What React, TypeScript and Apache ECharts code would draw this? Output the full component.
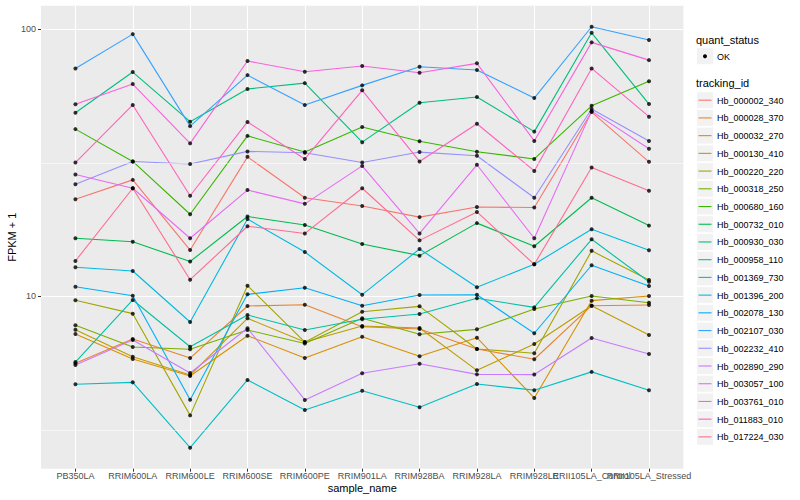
import React, { useEffect, useRef } from "react";
import * as echarts from "echarts";

const samples = [
  "PB350LA", "RRIM600LA", "RRIM600LE", "RRIM600SE", "RRIM600PE", "RRIM901LA",
  "RRIM928BA", "RRIM928LA", "RRIM928LE", "RRII105LA_Control", "RRII105LA_Stressed",
];

const trackingIds = [
  "Hb_000002_340", "Hb_000028_370", "Hb_000032_270", "Hb_000130_410", "Hb_000220_220",
  "Hb_000318_250", "Hb_000680_160", "Hb_000732_010", "Hb_000930_030", "Hb_000958_110",
  "Hb_001369_730", "Hb_001396_200", "Hb_002078_130", "Hb_002107_030", "Hb_002232_410",
  "Hb_002890_290", "Hb_003057_100", "Hb_003761_010", "Hb_011883_010", "Hb_017224_030",
];

const colors = [
  "#F8766D", "#EA8331", "#D89000", "#C09B00", "#A3A500", "#7CAE00", "#39B600", "#00BB4E",
  "#00BF7D", "#00C1A3", "#00BFC4", "#00BAE0", "#00B0F6", "#35A2FF", "#9590FF", "#C77CFF",
  "#E76BF3", "#FA62DB", "#FF62BC", "#FF6C91",
];

// FPKM + 1 per sample (order of `samples`)
const hb_000002_340 = [23.1, 27.3, 14.9, 33.3, 23.4, 21.8, 19.8, 21.6, 21.5, 49.0, 31.9];
const hb_000028_370 = [5.61, 6.92, 5.87, 9.2, 9.3, 7.69, 7.54, 6.35, 5.81, 9.22, 9.28];
const hb_000032_270 = [7.22, 5.82, 5.03, 7.12, 5.87, 7.06, 5.96, 7.0, 4.16, 9.63, 10.03];
const hb_000130_410 = [7.5, 5.94, 5.07, 8.27, 6.74, 7.74, 7.61, 5.28, 6.63, 9.22, 7.16];
const hb_000220_220 = [9.66, 8.61, 3.58, 10.96, 6.73, 8.75, 9.17, 6.35, 6.12, 14.8, 11.5];
const hb_000318_250 = [7.79, 6.46, 6.33, 7.48, 6.66, 8.27, 7.21, 7.52, 8.96, 10.03, 9.46];
const hb_000680_160 = [42.3, 32.0, 20.3, 39.9, 34.7, 43.1, 38.1, 34.8, 32.7, 51.7, 63.9];
const hb_000732_010 = [16.5, 16.0, 13.5, 19.9, 18.5, 15.7, 14.2, 18.8, 15.4, 23.4, 18.4];
const hb_000930_030 = [48.7, 69.2, 45.1, 59.8, 62.9, 37.8, 53.1, 55.8, 41.4, 97.1, 52.5];
const hb_000958_110 = [5.67, 9.69, 6.47, 8.51, 7.48, 8.2, 8.58, 9.83, 9.09, 16.35, 11.34];
const hb_001369_730 = [4.68, 4.76, 2.71, 4.86, 3.75, 4.43, 3.84, 4.69, 4.45, 5.21, 4.45];
const hb_001396_200 = [12.84, 12.44, 8.01, 19.47, 14.65, 10.14, 15.04, 10.81, 13.18, 17.82, 14.87];
const hb_002078_130 = [10.86, 10.05, 4.1, 10.17, 10.77, 9.22, 10.11, 10.13, 7.27, 13.07, 10.93];
const hb_002107_030 = [71.4, 96.0, 43.4, 67.4, 52.1, 61.7, 72.4, 70.4, 55.3, 102.3, 91.2];
const hb_002232_410 = [26.3, 32.0, 31.3, 34.9, 34.5, 31.7, 34.7, 33.6, 23.4, 50.3, 38.2];
const hb_002890_290 = [5.53, 6.86, 5.16, 7.59, 4.09, 5.15, 5.59, 5.1, 5.09, 6.98, 6.08];
const hb_003057_100 = [28.6, 25.4, 16.5, 25.0, 22.2, 30.8, 17.2, 31.1, 16.5, 49.4, 35.7];
const hb_003761_010 = [52.4, 62.4, 37.4, 76.1, 69.4, 72.9, 68.8, 74.6, 38.2, 89.4, 76.7];
const hb_011883_010 = [31.7, 52.1, 23.8, 45.0, 32.7, 59.1, 32.0, 44.3, 29.5, 71.4, 47.1];
const hb_017224_030 = [13.56, 25.4, 11.54, 18.3, 17.2, 25.4, 16.2, 20.7, 13.18, 30.4, 24.85];

const seriesValues = [
  hb_000002_340, hb_000028_370, hb_000032_270, hb_000130_410, hb_000220_220,
  hb_000318_250, hb_000680_160, hb_000732_010, hb_000930_030, hb_000958_110,
  hb_001369_730, hb_001396_200, hb_002078_130, hb_002107_030, hb_002232_410,
  hb_002890_290, hb_003057_100, hb_003761_010, hb_011883_010, hb_017224_030,
];

const yMajorTicks = [10, 100];
const yMinorTicks = [3.1623, 31.623];
const quantStatus = ["OK"];

const FONT = "'Liberation Sans', Arial, Helvetica, sans-serif";

export default function App() {
  const ref = useRef<HTMLDivElement>(null);

  useEffect(() => {
    if (!ref.current) return;
    const chart = echarts.init(ref.current, undefined, { renderer: "svg" });
    const lg = Math.log10;
    const allVals = seriesValues.flat().map(lg);
    const dmin = Math.min(...allVals);
    const dmax = Math.max(...allVals);
    const pad = (dmax - dmin) * 0.05;
    const xIdx = samples.map((_, i) => i);
    // labels split over two axes so that overlapping neighbours are both kept
    const xIdxEven = xIdx.filter((i) => i !== samples.length - 2);
    const xIdxOdd = [samples.length - 2];

    const lineSeries = seriesValues.map((vals, k) => ({
      name: trackingIds[k],
      type: "line",
      z: 2,
      showSymbol: false,
      symbol: "none",
      silent: true,
      lineStyle: { color: colors[k], width: 1.1 },
      itemStyle: { color: colors[k] },
      data: vals.map((v, i) => [i, lg(v)]),
    }));

    const points: number[][] = [];
    seriesValues.forEach((vals) => vals.forEach((v, i) => points.push([i, lg(v)])));

    const legendX = 697;
    const keySize = 17;
    const graphic: any[] = [];
    graphic.push({
      type: "text", left: legendX - 1, top: 34,
      style: { text: "quant_status", font: `11px ${FONT}`, fill: "#000" },
    });
    quantStatus.forEach((q, i) => {
      const cy = 56.7 + i * 17.7;
      graphic.push({ type: "rect", shape: { x: legendX, y: cy - keySize / 2, width: keySize - 1, height: keySize - 1 }, style: { fill: "#F2F2F2" } });
      graphic.push({ type: "circle", shape: { cx: legendX + 8, cy: cy - 0.5, r: 2 }, style: { fill: "#000" } });
      graphic.push({ type: "text", x: legendX + 20, y: cy, style: { text: q, font: `9px ${FONT}`, fill: "#000", verticalAlign: "middle" } });
    });
    graphic.push({
      type: "text", left: legendX - 1, top: 77,
      style: { text: "tracking_id", font: `11px ${FONT}`, fill: "#000" },
    });
    trackingIds.forEach((id, k) => {
      const cy = 100.7 + k * 17.72;
      graphic.push({ type: "rect", shape: { x: legendX, y: cy - keySize / 2, width: keySize - 1, height: keySize - 1 }, style: { fill: "#F2F2F2" } });
      graphic.push({ type: "line", shape: { x1: legendX + 1.5, y1: cy - 0.5, x2: legendX + 14.5, y2: cy - 0.5 }, style: { stroke: colors[k], lineWidth: 1.1 } });
      graphic.push({ type: "text", x: legendX + 20, y: cy, style: { text: id, font: `9px ${FONT}`, fill: "#000", verticalAlign: "middle" } });
    });

    const xBase = {
      type: "value",
      gridIndex: 0,
      position: "bottom",
      min: -0.6,
      max: samples.length - 1 + 0.6,
      axisLine: { show: false, onZero: false },
    };
    const xLabelStyle = {
      formatter: (v: number) => samples[Math.round(v)],
      color: "#4D4D4D", fontSize: 9, margin: 3, hideOverlap: false,
      showMinLabel: true, showMaxLabel: true,
    };

    chart.setOption({
      animation: false,
      backgroundColor: "#FFFFFF",
      textStyle: { fontFamily: FONT },
      grid: {
        left: 41, right: 116.6, top: 5.7, bottom: 31.3,
        containLabel: false,
        outerBoundsMode: "none",
        show: true, backgroundColor: "#EBEBEB", borderWidth: 0,
      },
      xAxis: [
        {
          ...xBase,
          axisTick: { show: true, customValues: xIdx, length: 3, lineStyle: { color: "#333333", width: 1 } },
          axisLabel: { ...xLabelStyle, customValues: xIdxEven },
          splitLine: { show: true, lineStyle: { color: "#FFFFFF", width: 1.1 } },
          name: "sample_name",
          nameLocation: "middle",
          nameGap: 14,
          nameMoveOverlap: false,
          nameTextStyle: { color: "#000000", fontSize: 11 },
        },
        {
          ...xBase,
          axisTick: { show: false, customValues: xIdxOdd },
          axisLabel: { ...xLabelStyle, customValues: xIdxOdd },
          splitLine: { show: false },
        },
      ],
      yAxis: {
        type: "value",
        min: dmin - pad,
        max: dmax + pad,
        axisLine: { show: false, onZero: false },
        axisTick: { show: true, customValues: yMajorTicks.map(lg), length: 3, lineStyle: { color: "#333333", width: 1 } },
        axisLabel: {
          customValues: yMajorTicks.map(lg),
          formatter: (v: number) => String(Math.round(Math.pow(10, v))),
          color: "#4D4D4D", fontSize: 9, margin: 5,
          showMinLabel: true, showMaxLabel: true,
        },
        splitLine: { show: true, lineStyle: { color: "#FFFFFF", width: 1.1 } },
        name: "FPKM + 1",
        nameLocation: "middle",
        nameGap: 23.5,
        nameMoveOverlap: false,
        nameTextStyle: { color: "#000000", fontSize: 11 },
      },
      graphic,
      series: [
        {
          name: "minor-grid",
          type: "line",
          z: 1,
          data: [],
          silent: true,
          markLine: {
            silent: true,
            symbol: "none",
            label: { show: false },
            lineStyle: { color: "#FFFFFF", width: 0.55, type: "solid" },
            data: yMinorTicks.map((t) => ({ yAxis: lg(t) })),
          },
        },
        ...lineSeries,
        {
          name: "OK",
          type: "scatter",
          z: 5,
          silent: true,
          symbol: "circle",
          symbolSize: 4,
          itemStyle: { color: "#000000" },
          data: points,
        },
      ],
    });
    return () => chart.dispose();
  }, []);

  return (
    <div
      ref={ref}
      style={{ position: "fixed", left: 0, top: 0, width: 800, height: 500 }}
    />
  );
}
